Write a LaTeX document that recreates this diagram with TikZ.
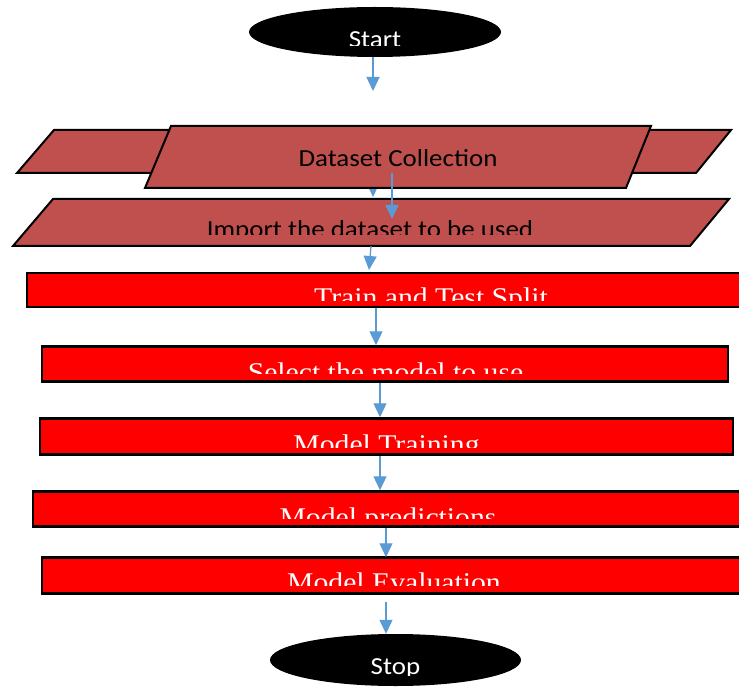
\documentclass[tikz,border=0pt]{standalone}
\usepackage{fontspec}
\usetikzlibrary{arrows.meta,shapes.geometric}
\newfontfamily\calfont[FakeStretch=1.1]{Carlito}
\newfontfamily\tmsfont[FakeStretch=1.1]{Liberation Serif}
\definecolor{arrblue}{HTML}{5B9BD5}
\definecolor{paral}{HTML}{C0504D}
\begin{document}
\begin{tikzpicture}[x=1pt,y=-1pt,
  arr/.style={draw=arrblue, line width=1.3pt, -{Triangle[width=13pt,length=14pt]}},
  redbox/.style={rectangle, draw=black, line width=2.5pt, fill=red, inner sep=0pt},
  oval/.style={ellipse, fill=black, inner sep=0pt},
  paraL/.style={draw=black, line width=2pt, fill=paral, line join=miter},
  caltext/.style={anchor=base, inner sep=0pt, font=\calfont\fontsize{24.5}{30}\selectfont},
  tmstext/.style={anchor=base, inner sep=0pt, text=white, font=\tmsfont\fontsize{27}{32}\selectfont}
]
\useasboundingbox (0,0) rectangle (739,687);
\clip (0,0) rectangle (739,687);
\fill[white] (0,0) rectangle (739,687);

% Start
\node[oval, minimum width=252pt, minimum height=50pt] (start) at (375,32) {};
\begin{scope}
  \clip (260,20) rectangle (490,46);
  \node[caltext, text=white] (tstart) at (375,47.7) {Start};
\end{scope}
\coordinate (a1end) at (373,91);
\draw[arr] (start.south -| a1end) -- (a1end);

% back parallelogram
\draw[paraL] (54,130) coordinate (bp1) -- (731,130) -- (696,173) -- (17,173) coordinate (bp4) -- cycle;
\coordinate (a2x) at (373,0);
\coordinate (a2end) at (373,197);
\draw[arr] (a2x |- bp4) -- (a2end);

% front parallelogram: Dataset Collection
\draw[paraL] (171,126) -- (651,126) -- (626,188) -- (145,188) -- cycle;
\node[caltext, text=black] (tdata) at (398,166.7) {Dataset Collection};

% Import parallelogram
\draw[paraL] (53,199) -- (729,199) -- (690,246) coordinate (ip3) -- (13,246) -- cycle;
\begin{scope}
  \clip (60,210) rectangle (680,235);
  \node[caltext, text=black] (timport) at (370,237.7) {Import the dataset to be used};
\end{scope}
\coordinate (a3s) at (392,173);
\coordinate (a3e) at (392,219);
\draw[arr] (a3s) -- (a3e);

% red boxes
\node[redbox, minimum width=733pt, minimum height=34pt] (train) at (393.5,290) {};
\node[redbox, minimum width=686pt, minimum height=35pt] (select) at (385,364) {};
\node[redbox, minimum width=693pt, minimum height=36pt] (training) at (386.5,436.5) {};
\node[redbox, minimum width=726pt, minimum height=35pt] (predictions) at (396,509) {};
\node[redbox, minimum width=717pt, minimum height=36pt] (evaluation) at (400.5,575.5) {};

\begin{scope}
  \clip (40,280) rectangle (739,300);
  \node[tmstext] (ttrain) at (431,306) {Train and Test Split};
\end{scope}
\begin{scope}
  \clip (50,355) rectangle (720,373);
  \node[tmstext] (tselect) at (385.5,381) {Select the model to use};
\end{scope}
\begin{scope}
  \clip (50,427) rectangle (720,447);
  \node[tmstext] (ttraining) at (386.5,453) {Model Training};
\end{scope}
\begin{scope}
  \clip (50,500) rectangle (720,518);
  \node[tmstext] (tpred) at (388,526) {Model predictions};
\end{scope}
\begin{scope}
  \clip (50,565) rectangle (720,585);
  \node[tmstext] (teval) at (394,591) {Model Evaluation};
\end{scope}

% arrow import -> train
\coordinate (a4s) at (371,246);
\draw[arr] (a4s) -- (369,270) coordinate (a4e);

\coordinate (x5) at (376,0);
\coordinate (x6) at (380,0);
\coordinate (x8) at (386,0);
\draw[arr] (train.south -| x5) -- (select.north -| x5);
\draw[arr] (select.south -| x6) -- (training.north -| x6);
\draw[arr] (training.south -| x6) -- (predictions.north -| x6);
\draw[arr] (predictions.south -| x8) -- ([yshift=-1pt]evaluation.north -| x8);

% Stop
\node[oval, minimum width=251pt, minimum height=52pt] (stop) at (395.5,660) {};
\begin{scope}
  \clip (280,645) rectangle (510,675);
  \node[caltext, text=white] (tstop) at (395.5,674.7) {Stop};
\end{scope}
\coordinate (a9s) at (386,602);
\draw[arr] (a9s) -- (stop.north -| a9s);
\end{tikzpicture}
\end{document}
